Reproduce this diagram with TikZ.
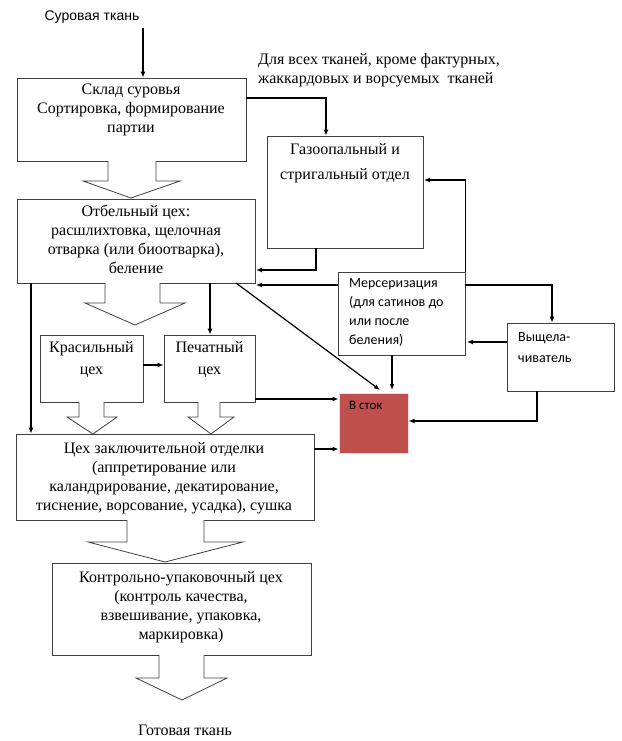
\documentclass[tikz,border=0pt]{standalone}
\usetikzlibrary{arrows.meta}
\usepackage{fontspec}
\setmainfont{Liberation Serif}
\newfontfamily\serf{Liberation Serif}
\newfontfamily\sansf{Carlito}
\newfontfamily\arialf{Liberation Sans}
\begin{document}
\begin{tikzpicture}[x=1pt,y=-1pt,
  box/.style={draw=black!75,line width=0.8pt,fill=white,inner sep=0pt},
  txt/.style={font=\serf\fontsize{16}{19}\selectfont,align=center,inner sep=0pt,anchor=north},
  stxt/.style={font=\sansf\fontsize{14}{19}\selectfont,align=left,inner sep=0pt,anchor=north west},
  arr/.style={line width=1.2pt,-{Latex[length=6pt,width=5pt]}},
  hol/.style={draw=black!75,line width=0.8pt,fill=white}]
\useasboundingbox (0,0) rectangle (621,741);
\newcommand\hollowarr[8]{\draw[hol] (#1,#3) -- (#1,#4) -- (#5,#4) -- (#7,#8) -- (#6,#4) -- (#2,#4) -- (#2,#3);}
% boxes
\node[box,minimum width=229,minimum height=83] (b1) at (131.5,119.5) {};
\node[box,minimum width=238,minimum height=84] (b2) at (136,241) {};
\node[box,minimum width=156,minimum height=112] (gas) at (345,192) {};
\node[box,minimum width=127,minimum height=83] (mer) at (401.5,313.5) {};
\node[box,minimum width=107,minimum height=68] (vy) at (560.5,357) {};
\node[box,minimum width=103,minimum height=67] (kr) at (91.5,368.5) {};
\node[box,minimum width=91,minimum height=67] (pe) at (209.5,368.5) {};
\node[box,minimum width=298,minimum height=86] (fin) at (165,477) {};
\node[box,minimum width=259,minimum height=92] (ctl) at (181.5,609) {};
\node[draw=red!15,line width=1pt,fill={rgb,255:red,192;green,80;blue,77},minimum width=69,minimum height=60,inner sep=0pt] (st) at (373.5,423) {};
% hollow arrows
\hollowarr{108}{156}{161}{181}{83}{180}{131}{198}
\hollowarr{105}{160}{283}{303}{85}{185}{135}{325}
\hollowarr{79}{104}{402}{417}{67}{117}{93}{434}
\hollowarr{198}{220}{402}{417}{188}{234}{211}{434}
\hollowarr{127}{204}{520}{542}{88}{243}{165}{562}
\hollowarr{159}{204}{655}{678}{136}{227}{182}{700}
% texts
\node[font=\arialf\fontsize{14}{16}\selectfont,inner sep=0pt] (t0) at (92,17) {Суровая ткань};
\node[txt,anchor=north west,align=left] (note) at (258,53) {Для всех тканей,\ кроме фактурных,\\жаккардовых и ворсуемых\ \ тканей};
\node[txt] (tb1) at (131,84) {Склад суровья\\Сортировка, формирование\\партии};
\node[txt] (tb2) at (136,205) {Отбельный цех:\\расшлихтовка,\ щелочная\\отварка (или биоотварка),\\беление};
\node[txt] (tgas) at (345,143) {Газоопальный и\\[6pt]стригальный отдел};
\node[stxt] (tmer) at (349,278) {Мерсеризация\\(для сатинов до\\или после\\беления)};
\node[stxt] (tvy) at (518,332) {Выщела-\\[2pt]чиватель};
\node[txt] (tkr) at (91.5,341) {Красильный\\[3pt]цех};
\node[txt] (tpe) at (209.5,341) {Печатный\\[3pt]цех};
\node[font=\sansf\fontsize{13}{16}\selectfont,inner sep=0pt,anchor=north west] (tst) at (349,401) {В сток};
\node[txt] (tfin) at (164,442) {Цех заключительной отделки\\(аппретирование или\\каландрирование, декатирование,\\тиснение, ворсование, усадка), сушка};
\node[txt] (tctl) at (181,571) {Контрольно-упаковочный цех\\(контроль качества,\\взвешивание, упаковка,\\маркировка)};
\node[txt] (tgot) at (185,725) {Готовая ткань};
% connectors
\draw[arr] (143,28) -- (b1.north -| 143,0);
\draw[arr] (b1.east |- 0,98) -| (gas.north -| 326,0);
\draw[arr] (gas.south -| 316,0) |- (256,270);
\draw[arr] (mer.west |- 0,285) -- (256,285);
\draw[arr] (mer.north east) |- (424,180);
\draw[arr] (mer.east |- 0,285) -| (vy.north -| 552,0);
\draw[arr] (vy.west |- 0,342) -- (467,342);
\draw[arr] (vy.south -| 537,0) |- (st.east |- 0,421);
\draw[arr] (mer.south -| 392,0) -- (392,390);
\draw[arr] (236,283) -- (380,390);
\draw[arr] (pe.east |- 0,399) -- (st.west |- 0,399);
\draw[arr] (fin.east |- 0,449) -- (st.west |- 0,449);
\draw[arr] (31,283) -- (fin.north -| 31,0);
\draw[arr] (210,283) -- (pe.north -| 210,0);
\draw[arr] (kr.east |- 0,365) -- (pe.west |- 0,365);
\end{tikzpicture}
\end{document}
